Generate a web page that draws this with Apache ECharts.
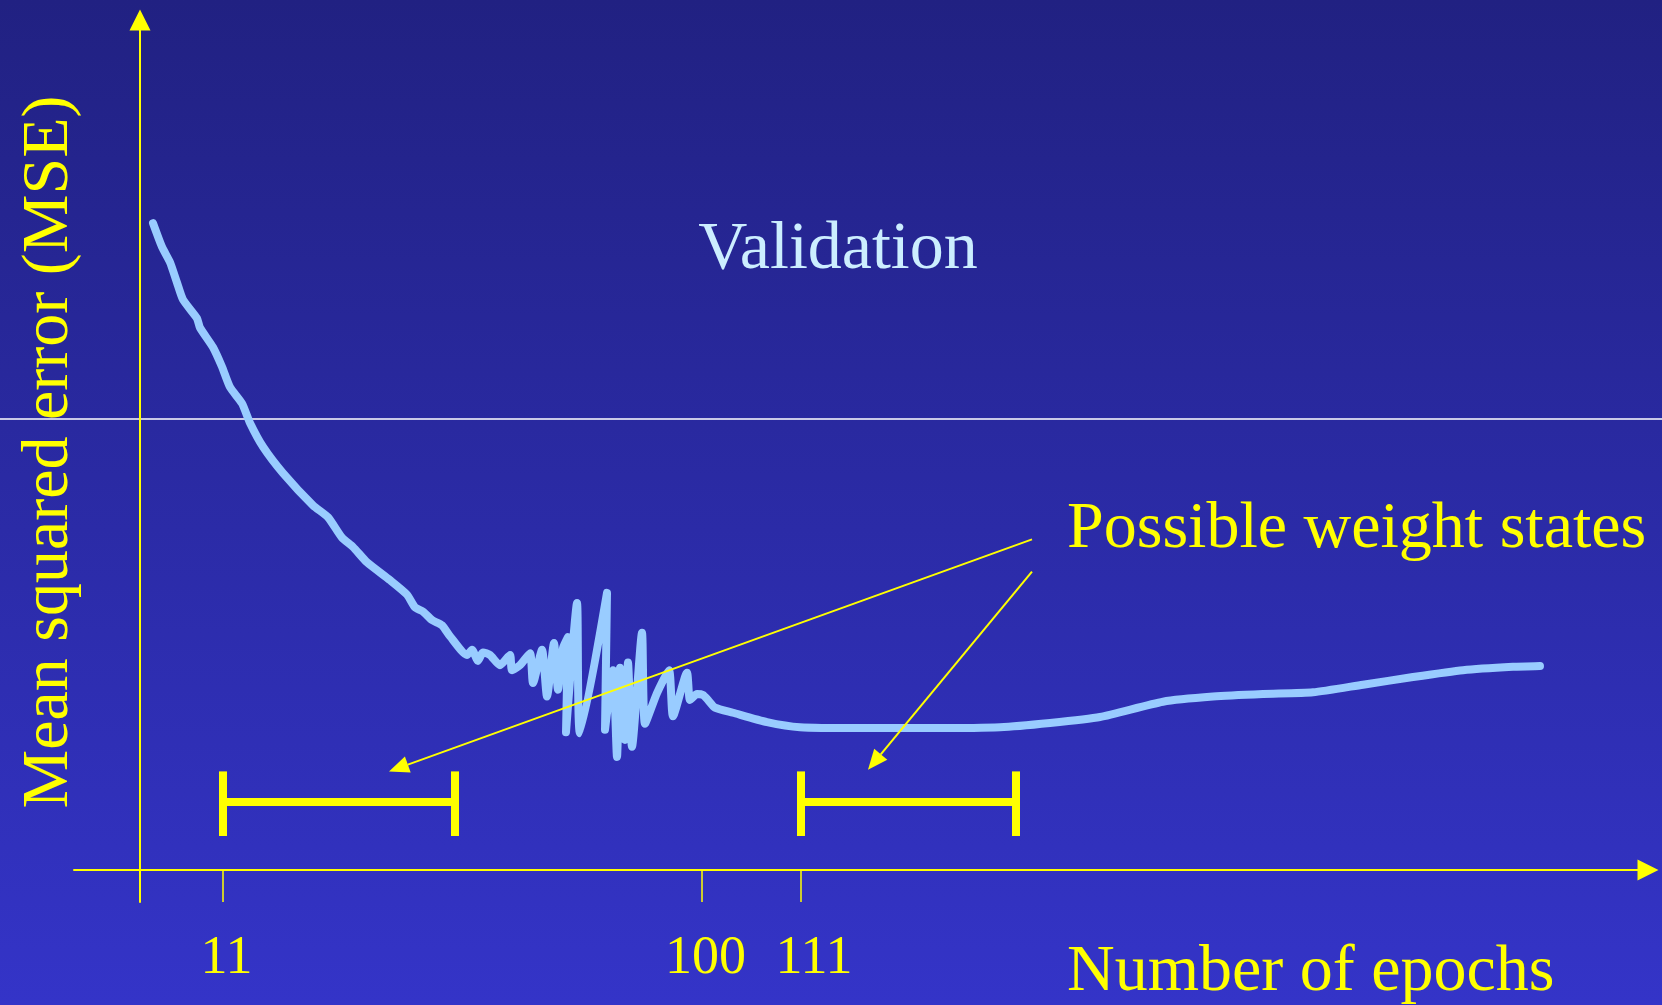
<!DOCTYPE html>
<html>
<head>
<meta charset="utf-8">
<script src="https://cdn.jsdelivr.net/npm/echarts@6/dist/echarts.min.js"></script>
<style>
html,body{margin:0;padding:0;width:1662px;height:1005px;overflow:hidden;}
#c{width:1662px;height:1005px;}
</style>
</head>
<body>
<div id="c"></div>
<script>
// ---- data (abstract axis units) ----
const curveX = [1.3,2.2,3.0,3.7,4.3,5.7,6.0,7.3,8.2,9.0,10.2,11.0,12.3,14.3,17.3,18.8,20.2,21.3,22.7,25.0,26.7,27.5,28.3,29.2,30.2,31.0,32.7,33.2,33.8,34.3,35.0,36.0,37.0,37.2,38.0,39.0,39.3,40.2,40.7,41.4,41.8,42.3,42.8,42.6,43.7,44.0,46.7,46.5,47.3,47.7,48.0,48.5,48.8,49.2,50.2,50.5,51.7,52.9,53.3,54.7,55.0,55.7,56.3,56.8,57.5,59.3,62.7,66.0,72.0,79.3,86.0,91.0,96.0,102.3,107.3,112.3,117.3,122.3,127.3,132.3,137.3,140.0];
const curveY = [76.1,73.3,71.5,69.1,67.1,64.9,63.8,61.5,59.2,56.8,54.9,52.6,49.8,46.7,42.9,41.5,39.1,38.0,36.2,34.1,32.4,30.9,30.4,29.4,28.8,27.5,25.3,25.9,24.6,25.6,25.3,24.1,25.3,23.5,24.1,25.5,22.0,25.9,20.4,26.7,21.2,26.1,27.4,16.2,31.4,16.1,32.6,16.5,23.5,13.3,23.8,15.3,24.4,14.5,27.9,17.2,20.8,23.5,18.1,23.2,20.0,20.7,20.6,20.0,19.1,18.5,17.4,16.8,16.7,16.7,16.8,17.3,18.0,19.8,20.4,20.7,20.9,21.8,22.7,23.5,23.9,24.0];

const tickPos = [8.3, 56.2, 66.1];
const tickLabels = ['11', '100', '111'];

const statesFrom = [8.3, 66.1];
const statesTo = [31.5, 87.6];
const barLow = 4.0, barMid = 8.0, barHigh = 11.6;

const arrowFromX = [89.2, 89.2];
const arrowFromY = [38.9, 35.1];
const arrowToX = [24.9, 72.8];
const arrowToY = [11.6, 11.8];

const xMin = -6.6, xMax = 150.8, yMin = -3.765, yMax = 100;

const YEL = '#ffff00';
const FONT = '"Liberation Serif", "Times New Roman", serif';

const curveData = curveX.map((x, i) => [x, curveY[i]]);
const statesData = statesFrom.map((a, i) => [a, statesTo[i], barLow, barMid, barHigh]);
const arrowData = arrowFromX.map((x, i) => [x, arrowFromY[i], arrowToX[i], arrowToY[i]]);
const labelStyleKey = ['a', 'a', 'b'];

const chart = echarts.init(document.getElementById('c'), null, {renderer: 'canvas'});
chart.setOption({
  animation: false,
  backgroundColor: {
    type: 'linear', x: 0, y: 0, x2: 0, y2: 1,
    colorStops: [{offset: 0, color: '#212182'}, {offset: 1, color: '#3434c8'}]
  },
  grid: {left: 74, right: 14, top: 20, bottom: 103, containLabel: false, outerBoundsMode: 'none'},
  xAxis: {
    type: 'value', min: xMin, max: xMax,
    axisLine: {show: true, onZero: true, symbol: ['none', 'triangle'], symbolSize: [21, 21],
      lineStyle: {color: YEL, width: 2}},
    axisTick: {show: true, customValues: tickPos, length: 32, inside: false,
      lineStyle: {color: YEL, width: 1.5}},
    axisLabel: {show: true, customValues: tickPos, margin: 30, color: YEL,
      fontFamily: FONT, fontSize: 54,
      formatter: function (v) {
        const i = tickPos.indexOf(v);
        return i >= 0 ? '{' + labelStyleKey[i] + '|' + tickLabels[i] + '}' : '';
      },
      rich: {
        a: {fontFamily: FONT, fontSize: 54, color: YEL, padding: [0, 0, 0, 7]},
        b: {fontFamily: FONT, fontSize: 54, color: YEL, padding: [0, 0, 0, 26]}
      }},
    splitLine: {show: false}
  },
  yAxis: {
    type: 'value', min: yMin, max: yMax,
    axisLine: {show: true, onZero: true, symbol: ['none', 'triangle'], symbolSize: [21, 21],
      lineStyle: {color: YEL, width: 2}},
    axisTick: {show: false},
    axisLabel: {show: false},
    splitLine: {show: false}
  },
  graphic: [
    {type: 'line', z: 0, shape: {x1: 0, y1: 419, x2: 1662, y2: 419}, style: {stroke: '#ffffff', lineWidth: 1.5}},
    {type: 'text', z: 10, x: 838, y: 250, style: {text: 'Validation', fill: '#cceeff', font: '68px ' + FONT,
      textAlign: 'center', textVerticalAlign: 'middle', align: 'center', verticalAlign: 'middle'}},
    {type: 'text', z: 10, x: 1067, y: 530, style: {text: 'Possible weight states', fill: YEL, font: '66px ' + FONT,
      textAlign: 'left', textVerticalAlign: 'middle', align: 'left', verticalAlign: 'middle'}},
    {type: 'text', z: 10, x: 1067, y: 973, style: {text: 'Number of epochs', fill: YEL, font: '66px ' + FONT,
      textAlign: 'left', textVerticalAlign: 'middle', align: 'left', verticalAlign: 'middle'}},
    {type: 'text', z: 10, x: 50, y: 452, rotation: Math.PI / 2, style: {text: 'Mean squared error (MSE)', fill: YEL, font: '66px ' + FONT,
      textAlign: 'center', textVerticalAlign: 'middle', align: 'center', verticalAlign: 'middle'}}
  ],
  series: [
    {
      type: 'line', data: curveData, showSymbol: false, symbol: 'none', smooth: 0.2, z: 3,
      lineStyle: {color: '#99ccff', width: 8, cap: 'round', join: 'round'}
    },
    {
      type: 'custom', z: 5, data: statesData,
      renderItem: function (params, api) {
        const a = api.coord([api.value(0), api.value(3)]);
        const b = api.coord([api.value(1), api.value(3)]);
        const lo = api.coord([api.value(0), api.value(2)])[1];
        const hi = api.coord([api.value(0), api.value(4)])[1];
        const st = {stroke: YEL, lineWidth: 8};
        return {type: 'group', children: [
          {type: 'line', shape: {x1: a[0], y1: a[1], x2: b[0], y2: b[1]}, style: st},
          {type: 'line', shape: {x1: a[0], y1: hi, x2: a[0], y2: lo}, style: st},
          {type: 'line', shape: {x1: b[0], y1: hi, x2: b[0], y2: lo}, style: st}
        ]};
      }
    },
    {
      type: 'custom', z: 6, data: arrowData,
      renderItem: function (params, api) {
        const p0 = api.coord([api.value(0), api.value(1)]);
        const p1 = api.coord([api.value(2), api.value(3)]);
        const dx = p1[0] - p0[0], dy = p1[1] - p0[1];
        const len = Math.sqrt(dx * dx + dy * dy);
        const ux = dx / len, uy = dy / len;
        const L = 20, W = 17;
        const bx = p1[0] - ux * L, by = p1[1] - uy * L;
        const px = -uy, py = ux;
        return {type: 'group', children: [
          {type: 'line', shape: {x1: p0[0], y1: p0[1], x2: bx, y2: by}, style: {stroke: YEL, lineWidth: 2}},
          {type: 'polygon', shape: {points: [[p1[0], p1[1]], [bx + px * W / 2, by + py * W / 2], [bx - px * W / 2, by - py * W / 2]]},
            style: {fill: YEL}}
        ]};
      }
    }
  ]
});
</script>
</body>
</html>
